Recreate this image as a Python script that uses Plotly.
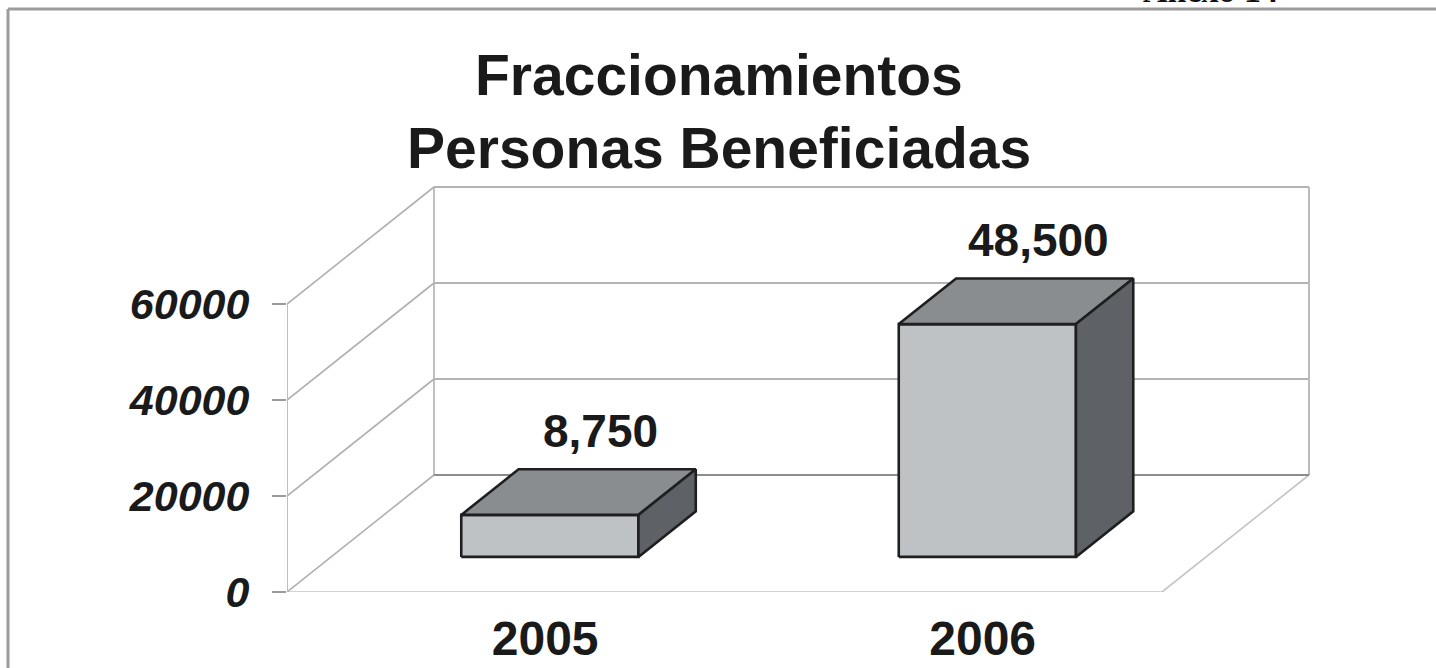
import plotly.graph_objects as go

# ---------------- data ----------------
categories = ["2005", "2006"]
values = [8750, 48500]
value_labels = ["8,750", "48,500"]
y_ticks = [0, 20000, 40000, 60000]
y_tick_labels = ["0", "20000", "40000", "60000"]
title_lines = ["Fraccionamientos", "Personas Beneficiadas"]
corner_note = "Anexo 14"

# ---------------- geometry (pixel based layout) ----------------
W, H = 1436, 668
PLOT_L = 287          # pixel x of the front y-axis
PLOT_B = 592          # pixel y of value 0 on the front plane
UNIT_PX = 437.5       # pixels per category slot
VAL_PX = 0.0048       # pixels per value unit

DX = 147 / UNIT_PX    # depth offset of the back wall (x, category units)
DY = 117 / VAL_PX     # depth offset of the back wall (y, value units)
F0, F1 = 0.30, 0.69   # bar depth position (fraction of the full depth)
BAR_W = 0.405
LABEL_SHIFT = 0.09

x_left = -0.5
x_right = len(categories) - 0.5
top_v = max(y_ticks)

x_range = [x_left, x_left + (W - PLOT_L) / UNIT_PX]
y_range = [0, PLOT_B / VAL_PX]


def pxx(px):
    return (px - PLOT_L) / (W - PLOT_L)


def pxy(py):
    return (PLOT_B - py) / PLOT_B


FONT = "Liberation Sans, Arial, Helvetica, sans-serif"
fig = go.Figure()


def add_lines(segments, color, width):
    xs, ys = [], []
    for (x0, y0), (x1, y1) in segments:
        xs += [x0, x1, None]
        ys += [y0, y1, None]
    fig.add_trace(go.Scatter(x=xs, y=ys, mode="lines",
                             line=dict(color=color, width=width),
                             hoverinfo="skip", showlegend=False))


# floor
add_lines([((x_left, 0), (x_right, 0)),
           ((x_right, 0), (x_right + DX, DY))], "#c4c4c4", 1.6)
# left side wall
seg = [((x_left, 0), (x_left, top_v)),
       ((x_left + DX, DY), (x_left + DX, top_v + DY))]
for v in y_ticks:
    seg.append(((x_left, v), (x_left + DX, v + DY)))
add_lines(seg, "#b0b0b0", 1.6)
# back wall gridlines
seg = [((x_right + DX, DY), (x_right + DX, top_v + DY))]
for v in y_ticks[1:]:
    seg.append(((x_left + DX, v + DY), (x_right + DX, v + DY)))
add_lines(seg, "#b4b4b4", 1.8)
add_lines([((x_left + DX, DY), (x_right + DX, DY))], "#8c8c8c", 2)

# bars
FRONT_C, TOP_C, SIDE_C, EDGE_C = "#bfc2c5", "#8a8d90", "#5e6266", "#1e1f21"
ddx = (F1 - F0) * DX
ddy = (F1 - F0) * DY
for i, v in enumerate(values):
    xf0 = i - BAR_W / 2 + F0 * DX
    xf1 = i + BAR_W / 2 + F0 * DX
    yb = F0 * DY
    yt = v + F0 * DY
    faces = [
        ([xf0, xf1, xf1, xf0, xf0], [yb, yb, yt, yt, yb], FRONT_C),
        ([xf0, xf1, xf1 + ddx, xf0 + ddx, xf0],
         [yt, yt, yt + ddy, yt + ddy, yt], TOP_C),
        ([xf1, xf1 + ddx, xf1 + ddx, xf1, xf1],
         [yb, yb + ddy, yt + ddy, yt, yb], SIDE_C),
    ]
    for fx, fy, col in faces:
        fig.add_trace(go.Scatter(x=fx, y=fy, mode="lines", fill="toself",
                                 fillcolor=col,
                                 line=dict(color=EDGE_C, width=2.6),
                                 hoverinfo="skip", showlegend=False))
    fig.add_annotation(x=i + F1 * DX - 0.015, y=v + F1 * DY,
                       xref="x", yref="y", text=value_labels[i],
                       showarrow=False, yanchor="bottom", yshift=10,
                       font=dict(family=FONT, size=46, color="#1a1a1a",
                                 weight="bold"))

# titles
for k, line in enumerate(title_lines):
    fig.add_annotation(x=pxx(719), y=pxy(75 + 73 * k), xref="paper",
                       yref="paper", text=line, showarrow=False,
                       xanchor="center", yanchor="middle",
                       font=dict(family=FONT, size=57, color="#1a1a1a",
                                 weight="bold"))

# partially visible note at the top right
fig.add_annotation(x=pxx(1210), y=pxy(-10), xref="paper", yref="paper",
                   text=corner_note, showarrow=False,
                   xanchor="center", yanchor="middle",
                   font=dict(family="Liberation Serif, Times New Roman, serif",
                             size=34, color="#111111", weight="bold"))

# page frame (top and left rules)
fig.add_shape(type="line", xref="paper", yref="paper",
              x0=pxx(8), x1=pxx(W + 5), y0=pxy(9), y1=pxy(9),
              line=dict(color="#9c9c9c", width=3))
fig.add_shape(type="line", xref="paper", yref="paper",
              x0=pxx(8), x1=pxx(8), y0=pxy(9), y1=pxy(H + 5),
              line=dict(color="#9c9c9c", width=3))

fig.update_layout(
    width=W, height=H,
    margin=dict(l=PLOT_L, r=0, t=0, b=H - PLOT_B, pad=0),
    paper_bgcolor="white", plot_bgcolor="white",
    showlegend=False,
    xaxis=dict(range=x_range, showgrid=False, zeroline=False,
               showline=False, ticks="", fixedrange=True,
               tickvals=[i + LABEL_SHIFT for i in range(len(categories))],
               ticktext=categories, ticklabelstandoff=14,
               tickfont=dict(family=FONT, size=48, color="#1a1a1a",
                             weight="bold")),
    yaxis=dict(range=y_range, showgrid=False, zeroline=False,
               showline=False, ticks="outside", ticklen=14,
               tickcolor="#9a9a9a", tickwidth=1.6, fixedrange=True,
               tickvals=y_ticks, ticktext=y_tick_labels,
               ticklabelstandoff=14,
               tickfont=dict(family=FONT, size=43, color="#1a1a1a",
                             weight="bold", style="italic")),
)

fig.write_html("out.html", config={"displayModeBar": False},
               post_script="document.body.style.margin='0';"
                           "document.body.style.overflow='hidden';")
